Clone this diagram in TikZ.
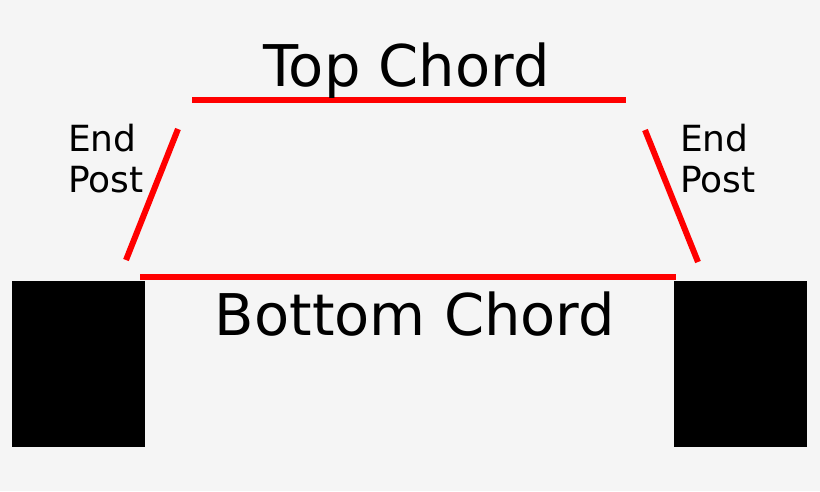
\documentclass[tikz,border=0pt]{standalone}
\usepackage{fontspec}
\setmainfont{DejaVu Sans}
\definecolor{bgcol}{HTML}{F5F5F5}
\definecolor{chordred}{HTML}{FF0000}
\tikzset{
  member/.style={chordred, line width=6pt},
  support/.style={fill=black, draw=none},
  bigtext/.style={inner sep=0pt, anchor=base, font=\fontsize{57.5}{65}\selectfont},
  smalltext/.style={inner sep=0pt, anchor=north west, align=left, font=\fontsize{36}{41}\selectfont}
}
\begin{document}
\begin{tikzpicture}[x=1pt,y=-1pt]
\fill[bgcol] (0,0) rectangle (820,491);
\useasboundingbox (0,0) rectangle (820,491);
% supports
\fill[support] (12,281) rectangle (145,447);
\fill[support] (674,281) rectangle (807,447);
% chords
\draw[member] (192,100) -- (626,100);
\draw[member] (140,276.5) -- (676,276.5);
% end posts
\draw[member] (178,129) -- (126,260);
\draw[member] (645,130) -- (698,262);
% labels
\node[bigtext] (topchord) at (406.5,86) {Top Chord};
\node[bigtext] (botchord) at (415,335) {Bottom Chord};
\node[smalltext] (endleft) at (68,124) {End\\Post};
\node[smalltext] (endright) at (680,124) {End\\Post};
\end{tikzpicture}
\end{document}
